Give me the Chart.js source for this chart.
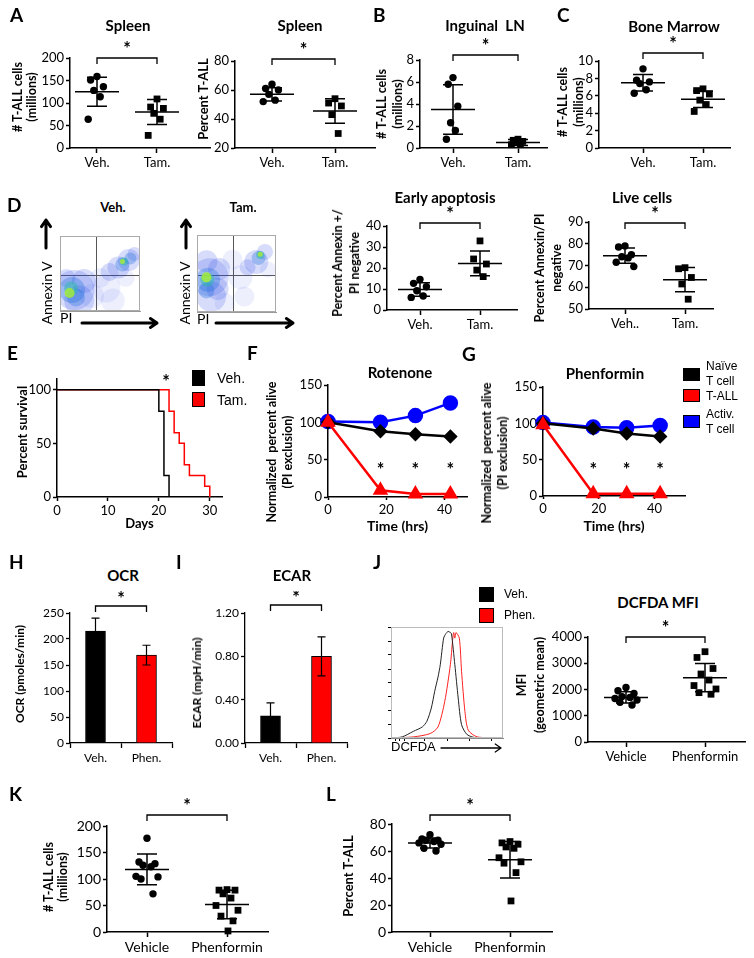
<!DOCTYPE html>
<html>
<head>
<meta charset="utf-8">
<title>T-ALL figure</title>
<script src="https://cdn.jsdelivr.net/npm/chart.js@4.4.1/dist/chart.umd.min.js"></script>
<style>
  body { margin: 0; width: 754px; height: 958px; position: relative; background: #fff; overflow: hidden; font-family: Lato, sans-serif; color: #000; }
  canvas { position: absolute; }
  .t { position: absolute; transform: translate(-50%, -50%); white-space: nowrap; line-height: 1; }
  .title { font-weight: bold; font-size: 15px; }
  .letter { position: absolute; font: bold 19px Lato, sans-serif; line-height: 1; }
  .leg { position: absolute; font-family: 'Liberation Sans', Arial, sans-serif; white-space: nowrap; transform: translateY(-50%); line-height: 1; }
  .sw { position: absolute; box-sizing: border-box; border: 1px solid #000; }
  .vt { position: absolute; transform: translate(-50%, -50%) rotate(-90deg); text-align: center; white-space: pre; }
</style>
</head>
<body>
<script>
// ---- values ----
const vehTam = ['Veh.', 'Tam.'];
const vehTam2 = ['Veh..', 'Tam.'];
const vehPhen = ['Veh.', 'Phen.'];
const vehPhenLong = ['Vehicle', 'Phenformin'];

// A
const spleenCountVeh = [159, 151, 136, 128, 114, 64];
const spleenCountTam = [109, 91, 88, 77, 64, 28];
const spleenCountMean = [125, 80];
const spleenCountSD = [32, 28];
const spleenCountTicks = [0, 50, 100, 150, 200];

const spleenPctVeh = [64, 61, 60, 57, 53, 52];
const spleenPctTam = [54, 51, 49, 43, 30];
const spleenPctMean = [57, 45.5];
const spleenPctSD = [4.5, 8.5];
const spleenPctTicks = [20, 40, 60, 80];

// B
const lnVeh = [6.4, 5.8, 3.8, 2.3, 1.6, 0.8];
const lnTam = [0.8, 0.7, 0.6, 0.5, 0.4, 0.3];
const lnMean = [3.5, 0.5];
const lnSD = [2.25, 0.28];
const lnTicks = [0, 2, 4, 6, 8];

// C
const bmVeh = [9.1, 7.8, 7.6, 7.4, 6.7, 6.3];
const bmTam = [6.8, 6.6, 6.2, 5.5, 5.0, 4.2];
const bmMean = [7.5, 5.6];
const bmSD = [0.95, 0.95];
const bmTicks = [0, 2, 4, 6, 8, 10];

// D
const earlyVeh = [14.6, 12.7, 11.1, 9.2, 6.7, 6.0];
const earlyTam = [32.9, 24.3, 21.9, 19.0, 15.9];
const earlyMean = [9.8, 22.2];
const earlySD = [3.2, 5.9];
const earlyTicks = [0, 10, 20, 30, 40];

const liveVeh = [79, 78.5, 75, 74, 73.5, 71.5, 69.5];
const liveTam = [69, 68.5, 64.5, 61.5, 54.5];
const liveMean = [74.5, 63.5];
const liveSD = [3.5, 5.6];
const liveTicks = [50, 60, 70, 80, 90];

// flow plots: cluster centre (PI, Annexin V), spread, density level
const vehFlowX = [58, 66, 50, 82, 40, 18, 24, 30, 8, 62, 73, 86, 93, 15, 20, 78, 88, 14, 80, 12, 78];
const vehFlowY = [30, 14, 44, 44, 20, 28, 14, 40, 44, 52, 58, 68, 76, 28, 18, 62, 70, 30, 66, 24, 66];
const vehFlowSpread = [14, 12, 10, 9, 12, 20, 15, 12, 9, 9, 11, 11, 7, 13, 9, 7, 6, 7, 4, 5, 2.5];
const vehFlowDensity = [0, 0, 0, 0, 0, 1, 1, 1, 1, 1, 1, 1, 1, 2, 2, 2, 2, 3, 3, 4, 4];
const tamFlowX = [55, 60, 90, 45, 35, 16, 18, 12, 28, 26, 75, 86, 64, 14, 12, 78, 13, 80, 12, 80];
const tamFlowY = [45, 20, 55, 68, 12, 45, 20, 66, 56, 30, 65, 78, 58, 42, 28, 70, 42, 74, 45, 75];
const tamFlowSpread = [12, 10, 8, 10, 10, 19, 15, 11, 11, 11, 12, 8, 8, 12, 8, 7, 7, 4, 5, 2.5];
const tamFlowDensity = [0, 0, 0, 0, 0, 1, 1, 1, 1, 1, 1, 1, 1, 2, 2, 2, 3, 3, 4, 4];
const flowGate = [46, 48];

// E
const survDaysVeh = [0, 20, 21, 22];
const survVeh = [100, 80, 20, 0];
const survDaysTam = [0, 22, 23, 24, 25, 26, 29, 30];
const survTam = [100, 80, 60, 50, 30, 20, 10, 0];
const survTicksY = [0, 50, 100];
const survTicksX = [0, 10, 20, 30];

// F, G
const hours = [0, 18, 30, 42];
const rotNaive = [100, 88, 84, 81];
const rotTall = [100, 9, 4, 4];
const rotActiv = [101, 100, 109, 126];
const phenNaive = [100, 93, 86, 82];
const phenTall = [98, 3, 3, 3];
const phenActiv = [101, 95, 94, 97];
const starTimes = [18, 30, 42];
const starLevel = 40;
const aliveTicks = [0, 50, 100, 150];
const hourTicks = [0, 20, 40];

// H, I
const ocrMean = [215, 169];
const ocrSD = [25, 19];
const ocrTicks = [0, 50, 100, 150, 200, 250];
const ecarMean = [0.25, 0.80];
const ecarSD = [0.12, 0.18];
const ecarTicks = [0, 0.4, 0.8, 1.2];

// J
const histVehX = [0, 10, 20, 28, 32, 36, 39, 42, 44, 47, 49, 51, 53, 54, 57, 60, 63, 68, 77, 100];
const histVeh = [0, 1, 6, 10, 15, 27, 42, 55, 66, 90, 94, 96, 95, 94, 66, 36, 12, 3, 0, 0];
const histPhenX = [0, 20, 35, 42, 48, 53, 55, 56, 57, 58, 61, 63, 66, 69, 77, 97, 100];
const histPhen = [0, 1, 4, 10, 33, 66, 88, 95, 90, 95, 90, 60, 24, 7, 1, 0, 0];
const mfiVeh = [2080, 1950, 1850, 1730, 1700, 1660, 1600, 1510, 1410];
const mfiPhen = [3440, 3220, 2800, 2590, 2360, 2150, 2020, 1880, 1820];
const mfiMean = [1700, 2450];
const mfiSD = [210, 540];
const mfiTicks = [0, 1000, 2000, 3000, 4000];

// K, L
const kVeh = [177, 132, 129, 126, 123, 105, 104, 100, 72];
const kPhen = [80, 79, 79, 72, 64, 50, 41, 30, 21, 2];
const kMean = [118, 52];
const kSD = [29, 27];
const lVeh = [72, 69, 68, 68, 67, 66, 65, 62, 60];
const lPhen = [67, 66, 65, 63, 62, 55, 52, 51, 44, 23];
const lMean = [66, 53.5];
const lSD = [3.7, 13.5];
const lTicks = [0, 20, 40, 60, 80];

// ---- helpers ----
const FONT = 'Lato, sans-serif';
Chart.defaults.font.family = FONT;
Chart.defaults.color = '#000';

const jitterPx = [0, -8, 8, -4, 4, -11, 11, -6, 6, 1];

function makeCanvas(area, m) {
  const c = document.createElement('canvas');
  const w = area[2] - area[0] + m[0] + m[2];
  const h = area[3] - area[1] + m[1] + m[3];
  c.width = w; c.height = h;
  c.style.left = (area[0] - m[0]) + 'px';
  c.style.top = (area[1] - m[1]) + 'px';
  c.style.width = w + 'px'; c.style.height = h + 'px';
  document.body.appendChild(c);
  return c;
}

function addText(str, x, y, cls, css) {
  const d = document.createElement('div');
  d.className = cls;
  d.textContent = str;
  d.style.cssText = `left:${x}px;top:${y}px;` + (css || '');
  document.body.appendChild(d);
}

// rotated axis title, centred on (cx, cy)
function vText(lines, cx, cy, size, lh, weight) {
  addText(lines.join('\n'), cx, cy, 'vt',
    `font-weight:${weight || 'bold'};font-size:${size}px;line-height:${lh}px;`);
}

function fixTicks(values) {
  return s => { s.ticks = values.map(v => ({ value: v })); };
}

function base(m) {
  return {
    responsive: false, animation: false, devicePixelRatio: 1, events: [],
    layout: { padding: { left: 0, top: m[1], right: m[2], bottom: 0 } }
  };
}

function yAxis(m, min, max, ticks, o = {}) {
  return {
    type: 'linear', min, max,
    afterBuildTicks: fixTicks(ticks),
    afterFit: s => { s.width = m[0]; s.paddingTop = 0; s.paddingBottom = 0; },
    border: { color: o.bc || '#000', width: o.lw || 1.5 },
    grid: { drawOnChartArea: false, tickLength: o.tl ?? 4, tickColor: '#000', tickWidth: o.lw || 1.5 },
    ticks: { display: o.noLabels ? false : true, color: '#000', autoSkip: false, padding: 2,
             font: { family: FONT, size: o.fs || 13 }, callback: o.fmt || (v => v) }
  };
}

function xAxis(m, min, max, ticks, title, o = {}) {
  return {
    type: 'linear', min, max,
    afterBuildTicks: fixTicks(ticks),
    afterFit: s => { s.height = m[3]; s.paddingLeft = 0; s.paddingRight = 0; },
    border: { color: o.bc || '#000', width: o.lw || 1.5 },
    grid: { drawOnChartArea: false, tickLength: o.tl ?? 5, tickColor: '#000', tickWidth: o.lw || 1.5 },
    ticks: { display: o.noLabels ? false : true, color: '#000', autoSkip: false, maxRotation: 0, padding: 2,
             font: { family: FONT, size: o.fs || 13 }, callback: o.fmt || (v => v) },
    title: title ? { display: true, text: title, color: '#000', align: o.align || 'center',
                     font: { family: o.tf || FONT, size: o.ts || 13, weight: o.tw || 'bold', lineHeight: 1.25 },
                     padding: { top: 0, bottom: 0 } } : { display: false }
  };
}

function drawStar(ctx, x, y) {
  ctx.font = `bold 18px ${FONT}`;
  ctx.textAlign = 'center';
  ctx.textBaseline = 'alphabetic';
  ctx.fillStyle = '#000';
  ctx.fillText('*', x, y + 9);
}

// mean line + SD error bars
const meanSdPlugin = {
  id: 'meanSd',
  afterDatasetsDraw(chart, args, o) {
    if (!o.mean) return;
    const { ctx, scales: { x, y } } = chart;
    ctx.save();
    ctx.strokeStyle = '#000';
    ctx.lineWidth = o.lw || 1.5;
    o.mean.forEach((mv, i) => {
      const cx = x.getPixelForValue(o.xs[i]);
      const ym = y.getPixelForValue(mv);
      const yt = y.getPixelForValue(mv + o.sd[i]);
      const yb = y.getPixelForValue(mv - o.sd[i]);
      ctx.beginPath();
      if (o.half) { ctx.moveTo(cx - o.half, ym); ctx.lineTo(cx + o.half, ym); }
      ctx.moveTo(cx, yt); ctx.lineTo(cx, yb);
      ctx.moveTo(cx - o.cap, yt); ctx.lineTo(cx + o.cap, yt);
      ctx.moveTo(cx - o.cap, yb); ctx.lineTo(cx + o.cap, yb);
      ctx.stroke();
    });
    ctx.restore();
  }
};

// significance bracket with star
const sigPlugin = {
  id: 'sig',
  afterDraw(chart, args, o) {
    if (!o.x) return;
    const { ctx, chartArea, scales: { x } } = chart;
    const y = chartArea.top - o.dy;
    const x1 = x.getPixelForValue(o.x[0]), x2 = x.getPixelForValue(o.x[1]);
    ctx.save();
    ctx.strokeStyle = '#000';
    ctx.lineWidth = 1.3;
    ctx.beginPath();
    ctx.moveTo(x1, y + 6); ctx.lineTo(x1, y); ctx.lineTo(x2, y); ctx.lineTo(x2, y + 6);
    ctx.stroke();
    drawStar(ctx, (x1 + x2) / 2, y - o.gap);
    ctx.restore();
  }
};

// stars above time points
const timeStarPlugin = {
  id: 'tstars',
  afterDraw(chart, args, o) {
    if (!o.times) return;
    const { ctx, scales: { x, y } } = chart;
    ctx.save();
    o.times.forEach(t => drawStar(ctx, x.getPixelForValue(t), y.getPixelForValue(o.level)));
    ctx.restore();
  }
};

// full frame around plot area
const framePlugin = {
  id: 'frame',
  afterDraw(chart, args, o) {
    if (!o.color) return;
    const { ctx, chartArea: a } = chart;
    ctx.save();
    ctx.strokeStyle = o.color;
    ctx.lineWidth = 1;
    ctx.strokeRect(a.left + 0.5, a.top + 0.5, a.right - a.left - 1, a.bottom - a.top - 1);
    ctx.restore();
  }
};

// axis arrows (page coordinates)
const arrowPlugin = {
  id: 'arrows',
  afterDraw(chart, args, o) {
    if (!o.list) return;
    const ctx = chart.ctx, ox = chart.canvas.offsetLeft, oy = chart.canvas.offsetTop;
    ctx.save();
    ctx.strokeStyle = '#000';
    ctx.lineCap = 'round';
    ctx.lineJoin = 'round';
    o.list.forEach(a => {
      const x1 = a[0] - ox, y1 = a[1] - oy, x2 = a[2] - ox, y2 = a[3] - oy;
      const ang = Math.atan2(y2 - y1, x2 - x1), hd = a[5];
      ctx.lineWidth = a[4];
      ctx.beginPath();
      ctx.moveTo(x1, y1); ctx.lineTo(x2, y2);
      ctx.moveTo(x2 - hd * Math.cos(ang - 0.6), y2 - hd * Math.sin(ang - 0.6));
      ctx.lineTo(x2, y2);
      ctx.lineTo(x2 - hd * Math.cos(ang + 0.6), y2 - hd * Math.sin(ang + 0.6));
      ctx.stroke();
    });
    ctx.restore();
  }
};

const noLegend = { legend: { display: false }, tooltip: { enabled: false } };

function dotPlot(p) {
  const c = makeCanvas(p.area, p.m);
  const unit = p.px[1] - p.px[0];
  const min = 1 - (p.px[0] - p.area[0]) / unit;
  const max = min + (p.area[2] - p.area[0]) / unit;
  const spread = p.spread || 1;
  const opts = base(p.m);
  opts.scales = {
    x: xAxis(p.m, min, max, [1, 2], null, { fs: p.fs, fmt: v => p.labels[Math.round(v) - 1] }),
    y: yAxis(p.m, p.y[0], p.y[1], p.ticks, { fs: p.fs })
  };
  opts.plugins = Object.assign({
    meanSd: { mean: p.mean, sd: p.sd, xs: [1, 2], half: 22, cap: 10 },
    sig: { x: [1, 2], dy: p.dy, gap: 12 }
  }, noLegend);
  new Chart(c, {
    type: 'scatter',
    data: {
      datasets: [p.a, p.b].map((vals, g) => ({
        data: vals.map((v, k) => ({ x: g + 1 + jitterPx[k % jitterPx.length] * spread / unit, y: v })),
        pointStyle: g ? 'rect' : 'circle',
        pointRadius: g ? 4.8 : 3.7,
        backgroundColor: '#000', borderColor: '#000', borderWidth: 0, clip: false
      }))
    },
    options: opts,
    plugins: [meanSdPlugin, sigPlugin]
  });
}

function barChart(p) {
  const c = makeCanvas(p.area, p.m);
  const opts = base(p.m);
  opts.scales = {
    x: {
      type: 'category', offset: true,
      afterFit: s => { s.height = p.m[3]; s.paddingLeft = 0; s.paddingRight = 0; },
      border: { color: '#000', width: 1.3 },
      grid: { offset: true, drawOnChartArea: false, tickLength: 5, tickColor: '#000', tickWidth: 1.3 },
      ticks: { color: '#000', padding: 3, font: { family: FONT, size: 12 } }
    },
    y: yAxis(p.m, p.y[0], p.y[1], p.ticks, { fs: 12, lw: 1.3, fmt: p.fmt })
  };
  opts.plugins = Object.assign({
    meanSd: { mean: p.mean, sd: p.sd, xs: [0, 1], half: 0, cap: 4, lw: 1.2 },
    sig: { x: [0, 1], dy: p.dy, gap: 10 }
  }, noLegend);
  new Chart(c, {
    type: 'bar',
    data: {
      labels: p.labels,
      datasets: [{ data: p.mean, backgroundColor: ['#000000', '#ff0000'], borderColor: '#000', borderWidth: 1, barThickness: 20 }]
    },
    options: opts,
    plugins: [meanSdPlugin, sigPlugin]
  });
}

const flowColors = ['rgba(80,100,240,0.10)', 'rgba(50,80,230,0.20)', 'rgba(30,110,220,0.32)', 'rgba(40,185,170,0.5)', 'rgba(165,235,60,0.85)'];

function flowPlot(p) {
  const c = makeCanvas(p.area, p.m);
  const opts = base(p.m);
  const gridOn = { drawOnChartArea: true, drawTicks: false, color: '#555', lineWidth: 1 };
  opts.scales = {
    x: Object.assign(xAxis(p.m, 0, 100, [flowGate[0]], 'PI', { noLabels: true, bc: '#999', lw: 1, tl: 0, align: 'start', tw: 'normal', ts: 14 }), { grid: gridOn }),
    y: Object.assign(yAxis(p.m, 0, 100, [flowGate[1]], { noLabels: true, bc: '#999', lw: 1, tl: 0 }), { grid: gridOn })
  };
  opts.plugins = Object.assign({ frame: { color: '#aaa' }, arrows: { list: p.arrows } }, noLegend);
  const datasets = [];
  for (let lvl = flowColors.length - 1; lvl >= 0; lvl--) {
    datasets.push({
      data: p.x.map((x, i) => ({ x, y: p.y[i], r: p.r[i], lvl: p.d[i] })).filter(d => d.lvl === lvl),
      backgroundColor: flowColors[lvl], borderWidth: 0, clip: 0
    });
  }
  new Chart(c, { type: 'bubble', data: { datasets }, options: opts, plugins: [framePlugin, arrowPlugin] });
}

function timeChart(p) {
  const c = makeCanvas(p.area, p.m);
  const opts = base(p.m);
  opts.scales = {
    x: xAxis(p.m, 0, p.xmax, hourTicks, 'Time (hrs)', { fs: 13, tl: 3, ts: 14 }),
    y: yAxis(p.m, 0, 150, aliveTicks, { fs: 13, tl: 4 })
  };
  opts.plugins = Object.assign({ tstars: { times: starTimes, level: starLevel } }, noLegend);
  const pts = vals => hours.map((h, i) => ({ x: h, y: vals[i] }));
  new Chart(c, {
    type: 'line',
    data: {
      datasets: [
        { data: pts(p.tall), borderColor: '#ff0000', backgroundColor: '#ff0000', pointStyle: 'triangle', pointRadius: 6.5, borderWidth: 2.5, clip: false },
        { data: pts(p.naive), borderColor: '#000', backgroundColor: '#000', pointStyle: 'rectRot', pointRadius: 5.5, borderWidth: 2.5, clip: false },
        { data: pts(p.activ), borderColor: '#0000ff', backgroundColor: '#0000ff', pointStyle: 'circle', pointRadius: 6.5, borderWidth: 2.5, clip: false }
      ]
    },
    options: opts,
    plugins: [timeStarPlugin]
  });
}

// ---- A ----
dotPlot({ area: [70, 58, 210, 148], m: [60, 34, 6, 22], px: [97, 157], labels: vehTam,
  a: spleenCountVeh, b: spleenCountTam, mean: spleenCountMean, sd: spleenCountSD,
  y: [0, 200], ticks: spleenCountTicks, dy: 0, spread: 0.8 });
dotPlot({ area: [235, 61, 375, 148], m: [42, 36, 6, 22], px: [272, 335], labels: vehTam,
  a: spleenPctVeh, b: spleenPctTam, mean: spleenPctMean, sd: spleenPctSD,
  y: [20, 80], ticks: spleenPctTicks, dy: 2, spread: 0.8 });
// B, C
dotPlot({ area: [420, 60, 547, 148], m: [46, 34, 6, 22], px: [453, 518], labels: vehTam,
  a: lnVeh, b: lnTam, mean: lnMean, sd: lnSD,
  y: [0, 8], ticks: lnTicks, dy: 5, spread: 0.6 });
dotPlot({ area: [599, 61, 730, 148], m: [44, 34, 10, 22], px: [643, 703], labels: vehTam,
  a: bmVeh, b: bmTam, mean: bmMean, sd: bmSD,
  y: [0, 10], ticks: bmTicks, dy: 8, spread: 0.8 });
// D
flowPlot({ area: [60, 218, 158, 315], m: [22, 2, 2, 16], x: vehFlowX, y: vehFlowY, r: vehFlowSpread, d: vehFlowDensity,
  arrows: [[46, 248, 46, 220, 3, 8], [82, 323, 157, 323, 3, 8]] });
flowPlot({ area: [197, 218, 293, 315], m: [21, 2, 2, 16], x: tamFlowX, y: tamFlowY, r: tamFlowSpread, d: tamFlowDensity,
  arrows: [[186, 248, 186, 220, 3, 8], [216, 323, 293, 323, 3, 8]] });
dotPlot({ area: [387, 226, 517, 310], m: [59, 24, 6, 22], px: [420, 480], labels: vehTam,
  a: earlyVeh, b: earlyTam, mean: earlyMean, sd: earlySD,
  y: [0, 40], ticks: earlyTicks, dy: 3, spread: 0.8 });
dotPlot({ area: [589, 222, 713, 309], m: [58, 20, 10, 22], px: [625, 685], labels: vehTam2,
  a: liveVeh, b: liveTam, mean: liveMean, sd: liveSD,
  y: [50, 90], ticks: liveTicks, dy: -1, spread: 0.8 });

// ---- E ----
(function () {
  const area = [57, 379, 222, 497], m = [45, 6, 8, 35];
  const c = makeCanvas(area, m);
  const opts = base(m);
  opts.scales = {
    x: xAxis(m, 0, 32.4, survTicksX, 'Days', { fs: 13, tl: 4, ts: 13 }),
    y: yAxis(m, 0, 110, survTicksY, { fs: 13, tl: 4 })
  };
  opts.plugins = noLegend;
  new Chart(c, {
    type: 'line',
    data: {
      datasets: [
        { data: survDaysVeh.map((d, i) => ({ x: d, y: survVeh[i] })), borderColor: '#000', borderWidth: 1.5, stepped: true, pointRadius: 0 },
        { data: survDaysTam.map((d, i) => ({ x: d, y: survTam[i] })), borderColor: '#ff0000', borderWidth: 1.5, stepped: true, pointRadius: 0 }
      ]
    },
    options: opts
  });
})();

// ---- F, G ----
timeChart({ area: [328, 384, 470, 497], m: [66, 8, 6, 38], xmax: 47.7, naive: rotNaive, tall: rotTall, activ: rotActiv });
timeChart({ area: [543, 386, 688, 496], m: [66, 8, 6, 39], xmax: 50.9, naive: phenNaive, tall: phenTall, activ: phenActiv });

// ---- H, I ----
barChart({ area: [70, 613, 172, 743], m: [60, 22, 6, 22], labels: vehPhen, mean: ocrMean, sd: ocrSD,
  y: [0, 250], ticks: ocrTicks, dy: 7 });
barChart({ area: [245, 613, 347, 743], m: [58, 22, 6, 22], labels: vehPhen, mean: ecarMean, sd: ecarSD,
  y: [0, 1.2], ticks: ecarTicks, dy: 8, fmt: v => v.toFixed(2) });

// ---- J ----
(function () {
  const area = [391, 627, 503, 738], m = [4, 2, 4, 18];
  const c = makeCanvas(area, m);
  const opts = base(m);
  opts.scales = {
    x: xAxis(m, 0, 100, [4, 8, 12, 30, 50, 70, 90], 'DCFDA', { noLabels: true, bc: '#888', lw: 1, tl: 3, align: 'start', tw: 'normal', ts: 13, tf: "'Liberation Sans', Arial, sans-serif" }),
    y: yAxis(m, 0, 100, [0, 12, 25, 37, 50, 62, 75, 87, 100], { noLabels: true, bc: '#888', lw: 1, tl: 3 })
  };
  opts.plugins = Object.assign({ frame: { color: '#bbb' }, arrows: { list: [[441, 748, 501, 748, 1.3, 7]] } }, noLegend);
  new Chart(c, {
    type: 'line',
    data: {
      datasets: [
        { data: histVehX.map((x, i) => ({ x, y: histVeh[i] })), borderColor: '#222', borderWidth: 1, pointRadius: 0, tension: 0.25 },
        { data: histPhenX.map((x, i) => ({ x, y: histPhen[i] })), borderColor: '#ff2020', borderWidth: 1, pointRadius: 0, tension: 0.25 }
      ]
    },
    options: opts,
    plugins: [framePlugin, arrowPlugin]
  });
})();
dotPlot({ area: [588, 637, 745, 742], m: [75, 22, 6, 22], px: [626, 705], labels: vehPhenLong,
  a: mfiVeh, b: mfiPhen, mean: mfiMean, sd: mfiSD,
  y: [0, 4000], ticks: mfiTicks, dy: 0, spread: 1 });

// ---- K, L ----
dotPlot({ area: [107, 826, 268, 932], m: [68, 32, 6, 24], px: [147, 227], labels: vehPhenLong,
  a: kVeh, b: kPhen, mean: kMean, sd: kSD, fs: 14,
  y: [0, 200], ticks: spleenCountTicks, dy: 11, spread: 1 });
dotPlot({ area: [392, 824, 552, 932], m: [54, 30, 6, 24], px: [430, 510], labels: vehPhenLong,
  a: lVeh, b: lPhen, mean: lMean, sd: lSD, fs: 14,
  y: [0, 80], ticks: lTicks, dy: 9, spread: 1 });

// ---- axis titles ----
vText(['# T-ALL cells', '(millions)'], 25, 97, 12.5, 14);
vText(['Percent T-ALL'], 203, 99, 13, 15);
vText(['# T-ALL cells', '(millions)'], 390, 104, 12.5, 16);
vText(['# T-ALL cells', '(millions)'], 571, 102, 12.5, 16);
vText(['Percent Annexin +/', 'PI negative'], 346, 263, 12.5, 17);
vText(['Percent Annexin/PI', 'negative'], 548, 268, 12.5, 17);
vText(['Annexin V'], 47, 293, 14, 16, 'normal');
vText(['Annexin V'], 185, 293, 14, 16, 'normal');
vText(['Percent survival'], 22, 432, 13, 15);
vText(['Normalized  percent alive', '(PI exclusion)'], 280, 452, 12.5, 16);
vText(['Normalized  percent alive', '(PI exclusion)'], 495, 453, 12.5, 16);
vText(['OCR (pmoles/min)'], 20, 674, 12, 14);
vText(['ECAR (mpH/min)'], 197, 683, 12, 14);
vText(['MFI', '(geometric mean)'], 531, 685, 12.5, 18);
vText(['# T-ALL cells', '(millions)'], 56, 877, 12.5, 14);
vText(['Percent T-ALL'], 348, 876, 13, 15);

// ---- titles, panel letters, legends ----
[['Spleen', 128, 25], ['Spleen', 300, 25], ['Inguinal  LN', 485, 25], ['Bone Marrow', 674, 26],
 ['Early apoptosis', 445, 197], ['Live cells', 642, 197], ['Rotenone', 400, 372], ['Phenformin', 605, 373],
 ['OCR', 123, 575], ['ECAR', 292, 575], ['DCFDA MFI', 658, 602]]
  .forEach(t => addText(t[0], t[1], t[2], 't title', 'white-space:pre;'));
addText('Veh.', 113, 207, 't title', 'font-size:13px;');
addText('Tam.', 243, 207, 't title', 'font-size:13px;');
addText('*', 166, 381, 't', 'font-weight:bold;font-size:18px;');

[['A', 10, 5], ['B', 373, 5], ['C', 557, 5], ['D', 7, 195], ['E', 7, 343], ['F', 247, 343], ['G', 462, 344],
 ['H', 9, 552], ['I', 176, 552], ['J', 373, 552], ['K', 9, 784], ['L', 326, 784]]
  .forEach(t => addText(t[0], t[1], t[2], 'letter'));

function swatch(x, y, w, h, color) {
  const d = document.createElement('div');
  d.className = 'sw';
  d.style.cssText = `left:${x}px;top:${y}px;width:${w}px;height:${h}px;background:${color};`;
  document.body.appendChild(d);
}
swatch(192, 370, 13, 16, '#000'); swatch(192, 392, 13, 15, '#ff0000');
addText('Veh.', 217, 378, 'leg', 'font-size:14px;');
addText('Tam.', 217, 400, 'leg', 'font-size:14px;');

swatch(683, 368, 17, 13, '#000'); swatch(683, 389, 17, 13, '#ff0000'); swatch(683, 415, 17, 13, '#0000ff');
addText('Naïve', 706, 366, 'leg', 'font-size:12px;');
addText('T cell', 706, 381, 'leg', 'font-size:12px;');
addText('T-ALL', 706, 396, 'leg', 'font-size:12px;');
addText('Activ.', 706, 414, 'leg', 'font-size:12px;');
addText('T cell', 706, 429, 'leg', 'font-size:12px;');

swatch(479, 587, 15, 15, '#000'); swatch(479, 608, 15, 15, '#ff0000');
addText('Veh.', 504, 594, 'leg', 'font-size:12px;');
addText('Phen.', 504, 615, 'leg', 'font-size:12px;');
</script>
</body>
</html>
